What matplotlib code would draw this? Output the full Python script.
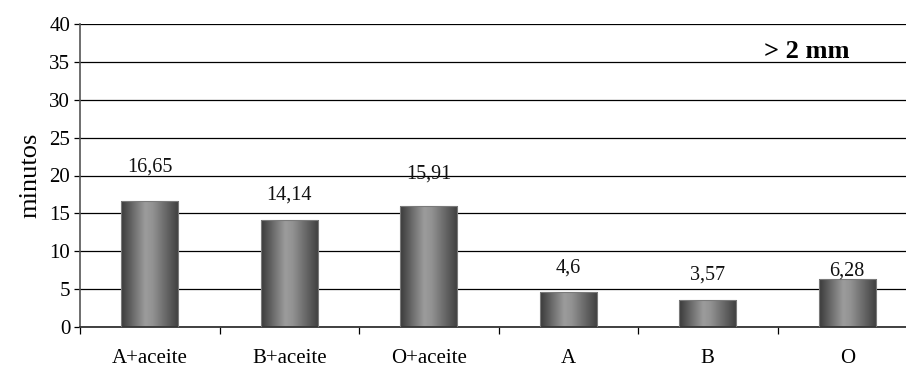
import numpy as np
import matplotlib
matplotlib.use("Agg")
import matplotlib.pyplot as plt
from matplotlib.colors import LinearSegmentedColormap

categories = ["A+aceite", "B+aceite", "O+aceite", "A", "B", "O"]
minutos = [16.65, 14.14, 15.91, 4.6, 3.57, 6.28]
value_labels = ["16,65", "14,14", "15,91", "4,6", "3,57", "6,28"]
y_ticks = [0, 5, 10, 15, 20, 25, 30, 35, 40]

# vertical offset (in points) of each value label above its bar
label_offsets = [24, 18, 23, 17, 18, 6]

plt.rcParams["font.family"] = ["Liberation Serif", "DejaVu Serif"]

fig = plt.figure(figsize=(9.06, 3.67), dpi=100)
ax = fig.add_axes([80 / 906, 1 - 327 / 367, 837 / 906, (327 - 24) / 367])

x = np.arange(len(categories))
width = 0.41

# cylinder-like shading across each bar
shade = LinearSegmentedColormap.from_list(
    "shade", [(0.0, "#3a3a3a"), (0.42, "#9c9c9c"), (0.55, "#929292"), (1.0, "#3e3e3e")]
)
grad = np.linspace(0, 1, 256).reshape(1, -1)

bars = ax.bar(x, minutos, width=width, color="none", edgecolor="#7a7a7a",
              linewidth=0.8, zorder=3)
for b in bars:
    x0, y0 = b.get_x(), b.get_y()
    w, h = b.get_width(), b.get_height()
    im = ax.imshow(grad, cmap=shade, aspect="auto",
                   extent=[x0, x0 + w, y0, y0 + h], zorder=2.5,
                   interpolation="bicubic")
    im.set_clip_path(b)

for xi, v, lab, off in zip(x, minutos, value_labels, label_offsets):
    ax.annotate(lab, (xi, v), xytext=(0, off), textcoords="offset points",
                ha="center", va="center", fontsize=14.5, color="#111111")

ax.set_xlim(-0.5, len(categories) - 0.5)
ax.set_ylim(0, 40)
ax.set_yticks(y_ticks)
ax.set_yticklabels([str(t) for t in y_ticks], fontsize=15)
ax.yaxis.grid(True, color="black", linewidth=0.9)
ax.set_axisbelow(True)

ax.set_xticks(x)
ax.set_xticklabels(categories, fontsize=15)
ax.set_xticks(np.arange(len(categories) + 1) - 0.5, minor=True)
ax.tick_params(axis="x", which="major", length=0, pad=16)
ax.tick_params(axis="x", which="minor", length=5, width=0.9, color="black", direction="out")
ax.tick_params(axis="y", length=4, width=0.9, color="black", direction="out", pad=3)

for s in ["top", "right"]:
    ax.spines[s].set_visible(False)
ax.spines["left"].set_color("#555555")
ax.spines["left"].set_linewidth(1.2)
ax.spines["bottom"].set_color("#333333")
ax.spines["bottom"].set_linewidth(1.3)

ax.set_ylabel("minutos", fontsize=19, labelpad=6)
fig.text(807 / 906, 1 - 51 / 367, "> 2 mm", ha="center", va="center",
         fontsize=19, fontweight="bold")

fig.savefig("out.png", dpi=100)
